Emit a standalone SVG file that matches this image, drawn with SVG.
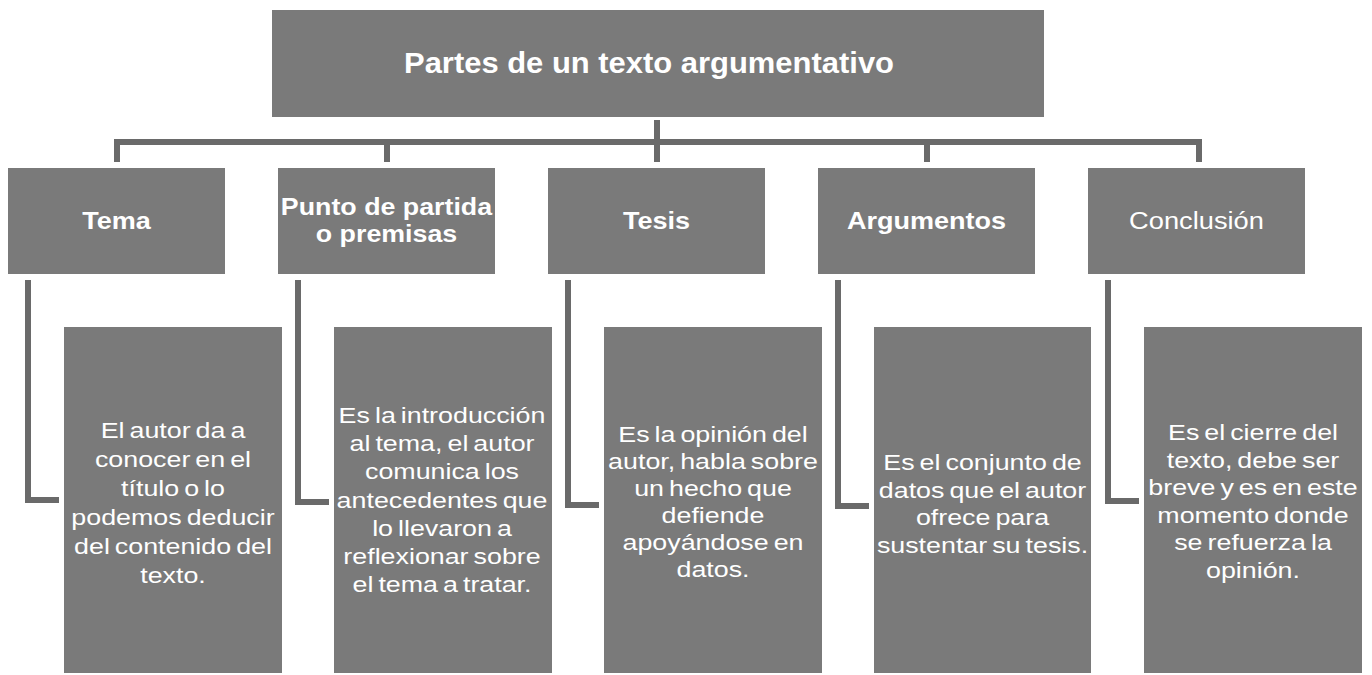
<svg xmlns="http://www.w3.org/2000/svg" width="1372" height="675" viewBox="0 0 1372 675">
<style>
.box{fill:#7a7a7a}
.conn{fill:none;stroke:#6a6a6a;stroke-width:6}
.title{font-family:"Liberation Sans",Arial,sans-serif;font-weight:bold;font-size:30px;fill:#fff;text-anchor:middle}
.h{font-family:"Liberation Sans",Arial,sans-serif;font-weight:bold;font-size:23.5px;fill:#fff;text-anchor:middle}
.hr{font-family:"Liberation Sans",Arial,sans-serif;font-size:23.5px;fill:#fff;text-anchor:middle}
.d{font-family:"Liberation Sans",Arial,sans-serif;font-size:22px;fill:#fff;text-anchor:middle;word-spacing:-2px}
</style>
<rect width="1372" height="675" fill="#fff"/>
<g id="connectors">
<path class="conn" d="M657 120V162M117 162V142H1199V162M387 142V162M927 142V162"/>
<path class="conn" d="M28 280V500H59"/>
<path class="conn" d="M298 280V502H329"/>
<path class="conn" d="M568 280V505H599"/>
<path class="conn" d="M838 280V506H869"/>
<path class="conn" d="M1108 280V501H1139"/>
</g>
<g id="title">
<rect class="box" x="272" y="10" width="772" height="107"/>
<text class="title" x="649" y="73" textLength="490" lengthAdjust="spacingAndGlyphs">Partes de un texto argumentativo</text>
</g>
<g id="tema">
<rect class="box" x="8" y="168" width="217" height="106"/>
<g transform="translate(116.5,229) scale(1.15,1)"><text class="h" x="0" y="0">Tema</text></g>
</g>
<g id="punto">
<rect class="box" x="278" y="168" width="217" height="106"/>
<g transform="translate(386.5,0) scale(1.14,1)"><text class="h" x="0" y="215">Punto de partida</text><text class="h" x="0" y="242">o premisas</text></g>
</g>
<g id="tesis">
<rect class="box" x="548" y="168" width="217" height="106"/>
<g transform="translate(656.5,229) scale(1.15,1)"><text class="h" x="0" y="0">Tesis</text></g>
</g>
<g id="argumentos">
<rect class="box" x="818" y="168" width="217" height="106"/>
<g transform="translate(926.5,229) scale(1.15,1)"><text class="h" x="0" y="0">Argumentos</text></g>
</g>
<g id="conclusion">
<rect class="box" x="1088" y="168" width="217" height="106"/>
<g transform="translate(1196.5,229) scale(1.16,1)"><text class="hr" x="0" y="0">Conclusión</text></g>
</g>
<g id="desc-tema">
<rect class="box" x="64" y="327" width="218" height="346"/>
<g transform="translate(173,0) scale(1.22,1)">
<text class="d" x="0" y="438">El autor da a</text>
<text class="d" x="0" y="467">conocer en el</text>
<text class="d" x="0" y="496">título o lo</text>
<text class="d" x="0" y="525">podemos deducir</text>
<text class="d" x="0" y="554">del contenido del</text>
<text class="d" x="0" y="583">texto.</text>
</g>
</g>
<g id="desc-punto">
<rect class="box" x="334" y="327" width="218" height="346"/>
<g transform="translate(442,0) scale(1.22,1)">
<text class="d" x="0" y="423">Es la introducción</text>
<text class="d" x="0" y="451">al tema, el autor</text>
<text class="d" x="0" y="479">comunica los</text>
<text class="d" x="0" y="508">antecedentes que</text>
<text class="d" x="0" y="536">lo llevaron a</text>
<text class="d" x="0" y="564">reflexionar sobre</text>
<text class="d" x="0" y="592">el tema a tratar.</text>
</g>
</g>
<g id="desc-tesis">
<rect class="box" x="604" y="327" width="218" height="346"/>
<g transform="translate(713,0) scale(1.22,1)">
<text class="d" x="0" y="442">Es la opinión del</text>
<text class="d" x="0" y="469">autor, habla sobre</text>
<text class="d" x="0" y="496">un hecho que</text>
<text class="d" x="0" y="523">defiende</text>
<text class="d" x="0" y="550">apoyándose en</text>
<text class="d" x="0" y="577">datos.</text>
</g>
</g>
<g id="desc-argumentos">
<rect class="box" x="874" y="327" width="217" height="346"/>
<g transform="translate(982.5,0) scale(1.22,1)">
<text class="d" x="0" y="470">Es el conjunto de</text>
<text class="d" x="0" y="498">datos que el autor</text>
<text class="d" x="0" y="525">ofrece para</text>
<text class="d" x="0" y="553">sustentar su tesis.</text>
</g>
</g>
<g id="desc-conclusion">
<rect class="box" x="1144" y="327" width="218" height="346"/>
<g transform="translate(1253,0) scale(1.22,1)">
<text class="d" x="0" y="440">Es el cierre del</text>
<text class="d" x="0" y="468">texto, debe ser</text>
<text class="d" x="0" y="495">breve y es en este</text>
<text class="d" x="0" y="523">momento donde</text>
<text class="d" x="0" y="550">se refuerza la</text>
<text class="d" x="0" y="578">opinión.</text>
</g>
</g>
</svg>
